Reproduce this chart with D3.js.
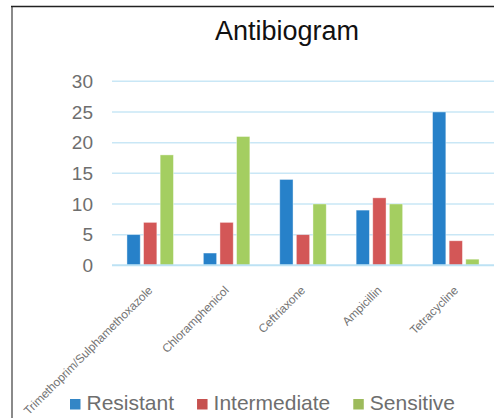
<!DOCTYPE html>
<html>
<head>
<meta charset="utf-8">
<script src="https://cdn.jsdelivr.net/npm/d3@7"></script>
<style>
  body { margin: 0; background: #fff; }
  svg { font-family: "Liberation Sans", Arial, sans-serif; }
</style>
</head>
<body>
<script>
// chart size
const w = 495
const h = 418

// data
const categories = ['Trimethoprim/Sulphamethoxazole', 'Chloramphenicol', 'Ceftriaxone', 'Ampicillin', 'Tetracycline']
const seriesNames = ['Resistant', 'Intermediate', 'Sensitive']
const resistant = [5, 2, 14, 9, 25]
const intermediate = [7, 7, 5, 11, 4]
const sensitive = [18, 21, 10, 10, 1]
const yTicks = [0, 5, 10, 15, 20, 25, 30]

const barColors = ['#2781c9', '#d35757', '#a4ce61']
const legendColors = ['#3386c6', '#c6514f', '#9dbb5c']

const values = [resistant, intermediate, sensitive]
const rows = categories.map((c, i) => ({
  cat: c,
  vals: seriesNames.map((s, j) => ({ series: s, idx: j, v: values[j][i] }))
}))

const svg = d3.select('body').append('svg')
  .attr('width', w)
  .attr('height', h)

// frame lines
svg.append('line')
  .attr('x1', 12).attr('x2', 12).attr('y1', 6).attr('y2', h)
  .attr('stroke', '#8a8a8a').attr('stroke-width', 2)
svg.append('line')
  .attr('x1', 11).attr('x2', 494).attr('y1', 6.5).attr('y2', 6.5)
  .attr('stroke', '#222').attr('stroke-width', 1.5)

// title
svg.append('text')
  .attr('x', 287).attr('y', 40)
  .attr('text-anchor', 'middle')
  .attr('font-size', 27)
  .attr('fill', '#111')
  .text('Antibiogram')

// scales
const x0 = d3.scaleBand()
  .domain(categories)
  .range([112, 494])

const x1 = d3.scaleBand()
  .domain(seriesNames)
  .range([0, x0.bandwidth()])
  .paddingInner(0.2)
  .paddingOuter(0.9)

const y = d3.scaleLinear()
  .domain([0, 30])
  .range([265.3, 81.3])

// gridlines
svg.append('g')
  .selectAll('line')
  .data(yTicks.filter(t => t > 0))
  .enter()
  .append('line')
  .attr('x1', 112).attr('x2', 494)
  .attr('y1', d => y(d)).attr('y2', d => y(d))
  .attr('stroke', '#c9e7f6')
  .attr('stroke-width', 1.5)

// y axis labels
const yAxis = svg.append('g')
  .attr('transform', 'translate(93,0)')
  .call(d3.axisLeft(y).tickValues(yTicks).tickSize(0).tickPadding(0))
yAxis.select('.domain').remove()
yAxis.selectAll('text')
  .attr('font-size', 19)
  .attr('font-family', '"Liberation Sans", Arial, sans-serif')
  .attr('fill', '#6e6e6e')

// bars
const groups = svg.append('g')
  .selectAll('g')
  .data(rows)
  .enter()
  .append('g')
  .attr('transform', d => `translate(${x0(d.cat)},0)`)

groups.selectAll('rect')
  .data(d => d.vals)
  .enter()
  .append('rect')
  .attr('x', d => x1(d.series))
  .attr('width', x1.bandwidth())
  .attr('y', d => y(d.v))
  .attr('height', d => y(0) - y(d.v))
  .attr('fill', d => barColors[d.idx])
  .attr('stroke', 'rgba(255,255,255,0.5)')
  .attr('stroke-width', 0.8)

// baseline
svg.append('line')
  .attr('x1', 112).attr('x2', 494)
  .attr('y1', y(0)).attr('y2', y(0))
  .attr('stroke', '#bde2f4')
  .attr('stroke-width', 2)

// category labels, rotated
svg.append('g')
  .selectAll('text')
  .data(categories)
  .enter()
  .append('text')
  .attr('transform', d => `translate(${x0(d) + x0.bandwidth() / 2 + 3},291) rotate(-45)`)
  .attr('text-anchor', 'end')
  .attr('font-size', 11.8)
  .attr('fill', '#737373')
  .text(d => d)

// legend
const legend = svg.append('g')
let lx = 70
seriesNames.forEach((s, i) => {
  legend.append('rect')
    .attr('x', lx).attr('y', 399)
    .attr('width', 10.5).attr('height', 10.5)
    .attr('fill', legendColors[i])
  const t = legend.append('text')
    .attr('x', lx + 16.5).attr('y', 410)
    .attr('font-size', 21)
    .attr('fill', '#6e6e6e')
    .text(s)
  lx += 16.5 + t.node().getComputedTextLength() + 23
})
</script>
</body>
</html>
